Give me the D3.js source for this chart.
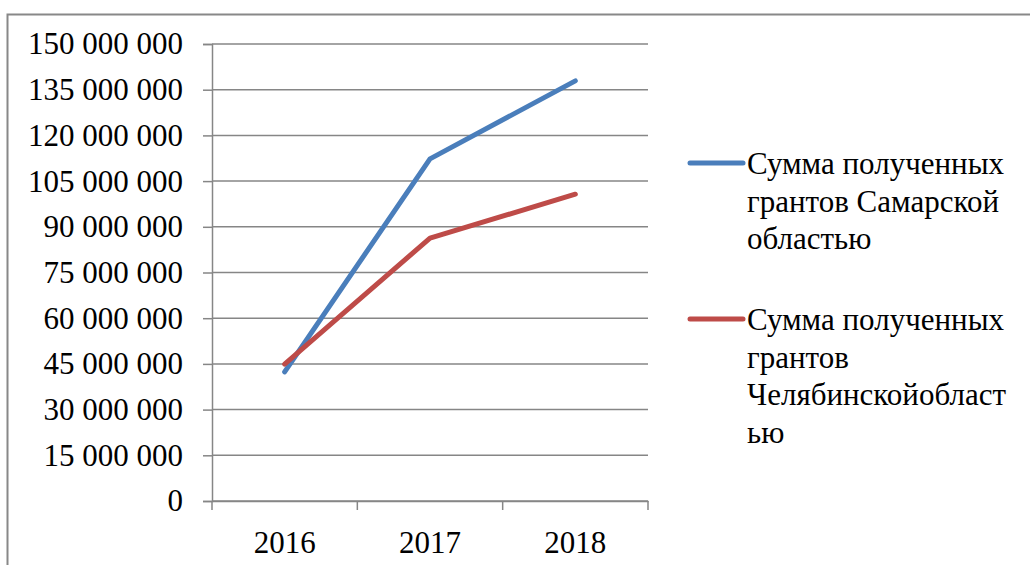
<!DOCTYPE html>
<html>
<head>
<meta charset="utf-8">
<script src="https://cdn.jsdelivr.net/npm/d3@7"></script>
</head>
<body style="margin:0">
<svg id="chart" width="1030" height="565"></svg>
<script>
const years = ["2016", "2017", "2018"];
const samara = [42400000, 112300000, 137900000];
const chelyabinsk = [44900000, 86300000, 100700000];
const yTicks = [0, 15000000, 30000000, 45000000, 60000000, 75000000, 90000000, 105000000, 120000000, 135000000, 150000000];
const seriesNames = [
  ["Сумма полученных", "грантов Самарской", "областью"],
  ["Сумма полученных", "грантов", "Челябинскойобласт", "ью"]
];
const seriesColors = ["#4A7EBB", "#BE4B48"];
const seriesData = [samara, chelyabinsk];

const FS = "31px";
function serif(sel) {
  return sel.style("font-family", '"Liberation Serif"').style("font-size", FS).attr("fill", "#000");
}

const svg = d3.select("#chart");
const W = 1030, H = 565;

// outer border (left and top visible)
svg.append("path")
  .attr("d", `M7.5,${H} L7.5,14.5 L${W},14.5`)
  .attr("fill", "none").attr("stroke", "#888").attr("stroke-width", 2);

const plot = { left: 212, right: 648, top: 44, bottom: 501 };

const x = d3.scaleBand().domain(years).range([plot.left, plot.right]);
const y = d3.scaleLinear().domain([0, 150000000]).range([plot.bottom, plot.top]);

const fmt = v => d3.format(",")(v).replace(/,/g, " ");

// y axis
const yAxis = d3.axisLeft(y).tickValues(yTicks).tickSize(9).tickFormat(fmt).tickPadding(20);
const gy = svg.append("g").attr("transform", `translate(${plot.left},0)`).call(yAxis);
gy.attr("font-family", null).attr("font-size", null);
gy.select(".domain").attr("stroke", "#868686").attr("stroke-width", 1.5);
gy.selectAll(".tick line").attr("stroke", "#868686").attr("stroke-width", 1.5);
serif(gy.selectAll(".tick text"));

// gridlines
svg.append("g").selectAll("line").data(yTicks).join("line")
  .attr("x1", plot.left).attr("x2", plot.right)
  .attr("y1", d => y(d)).attr("y2", d => y(d))
  .attr("stroke", "#868686").attr("stroke-width", 1.5);

// x axis
const xAxis = d3.axisBottom(x).tickSize(0).tickPadding(30);
const gx = svg.append("g").attr("transform", `translate(0,${plot.bottom})`).call(xAxis);
gx.attr("font-family", null).attr("font-size", null);
gx.select(".domain").attr("stroke", "#868686").attr("stroke-width", 1.5);
serif(gx.selectAll(".tick text"));

// x tick marks at band boundaries
const bounds = years.map(d => x(d)).concat([plot.right]);
svg.append("g").selectAll("line").data(bounds).join("line")
  .attr("x1", d => d).attr("x2", d => d)
  .attr("y1", plot.bottom).attr("y2", plot.bottom + 9)
  .attr("stroke", "#868686").attr("stroke-width", 1.5);

// lines
const line = d3.line()
  .x((d, i) => x(years[i]) + x.bandwidth() / 2)
  .y(d => y(d));
seriesData.forEach((s, k) => {
  svg.append("path").datum(s)
    .attr("d", line)
    .attr("fill", "none")
    .attr("stroke", seriesColors[k])
    .attr("stroke-width", 5)
    .attr("stroke-linecap", "round")
    .attr("stroke-linejoin", "round");
});

// legend
const legendY = [163, 319];
seriesNames.forEach((lines, k) => {
  svg.append("line")
    .attr("x1", 690).attr("x2", 743)
    .attr("y1", legendY[k]).attr("y2", legendY[k])
    .attr("stroke", seriesColors[k]).attr("stroke-width", 5)
    .attr("stroke-linecap", "round");
  svg.append("g").selectAll("text").data(lines).join("text")
    .attr("x", 747)
    .attr("y", (d, i) => legendY[k] + 11 + i * 37.5)
    .style("font-family", '"Liberation Serif"')
    .style("font-size", FS)
    .text(d => d);
});
</script>
</body>
</html>
